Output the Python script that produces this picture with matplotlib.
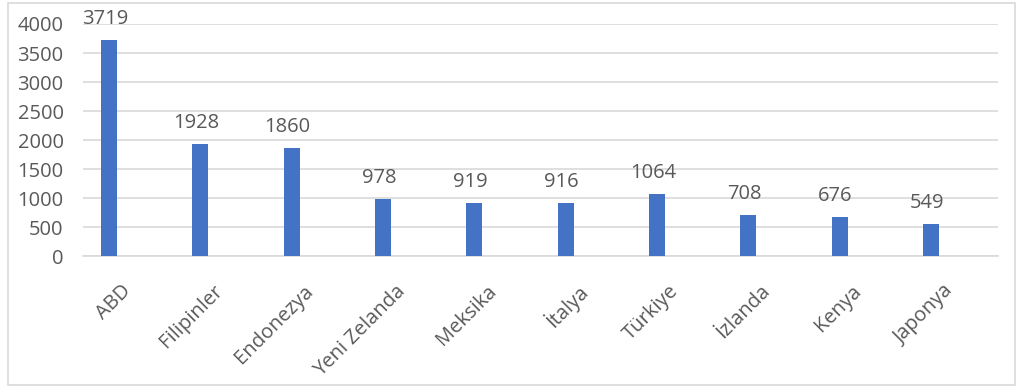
import matplotlib.pyplot as plt
import matplotlib.transforms as mtransforms
from matplotlib.patches import Rectangle

ulkeler = ["ABD", "Filipinler", "Endonezya", "Yeni Zelanda", "Meksika",
           "İtalya", "Türkiye", "İzlanda", "Kenya", "Japonya"]
degerler = [3719, 1928, 1860, 978, 919, 916, 1064, 708, 676, 549]
y_ticks = [0, 500, 1000, 1500, 2000, 2500, 3000, 3500, 4000]

plt.rcParams['font.family'] = ['Open Sans', 'DejaVu Sans']
text_color = '#595959'
fs = 14.5

fig = plt.figure(figsize=(10.19, 3.87), dpi=100)
ax = fig.add_axes([0.0815, 0.338, 0.8975, 0.6])

x = list(range(len(ulkeler)))
ax.bar(x, degerler, width=0.175, color='#4472C4', zorder=3)

for xi, v in zip(x, degerler):
    ax.annotate(str(v), (xi, v), xytext=(-3, 8), textcoords='offset points',
                ha='center', va='bottom', fontsize=fs, color=text_color)

ax.set_xlim(-0.285, 9.73)
ax.set_ylim(0, 4000)
ax.set_yticks(y_ticks)
ax.set_yticklabels([str(t) for t in y_ticks], fontsize=fs, color=text_color)
ax.tick_params(axis='y', length=0, pad=14)
ax.yaxis.grid(True, color='#D9D9D9', linewidth=1.2, zorder=0)

ax.set_xticks(x)
ax.set_xticklabels(ulkeler, rotation=45, ha='right', va='center',
                   rotation_mode='anchor', fontsize=fs, color=text_color)
ax.tick_params(axis='x', length=0, pad=0)
offset = mtransforms.ScaledTranslation(19 / 100, -32 / 100, fig.dpi_scale_trans)
for lbl in ax.get_xticklabels():
    lbl.set_transform(lbl.get_transform() + offset)

for side in ['top', 'right', 'left']:
    ax.spines[side].set_visible(False)
ax.spines['bottom'].set_color('#D9D9D9')
ax.spines['bottom'].set_linewidth(1.2)

fig.patches.append(Rectangle((0.008, 0.006), 0.988, 0.986, transform=fig.transFigure,
                             fill=False, edgecolor='#D9D9D9', linewidth=1.2))

fig.savefig('out.png', dpi=100)
